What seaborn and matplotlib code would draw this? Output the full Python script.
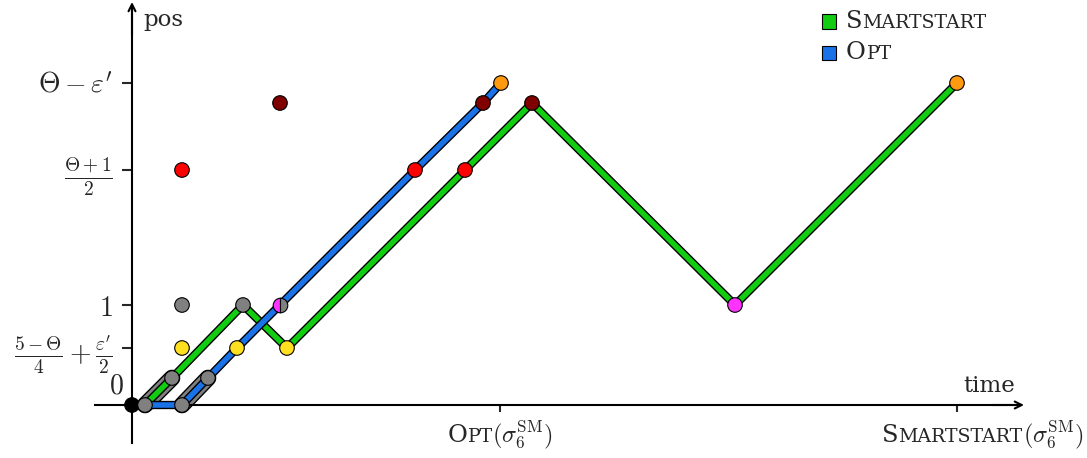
"""Trajectory of SMARTSTART vs OPT on sigma_6 (position over time)."""

import matplotlib
matplotlib.use("Agg")
import matplotlib.pyplot as plt
import matplotlib.patheffects as pe
import seaborn as sns
from matplotlib.offsetbox import (AnnotationBbox, DrawingArea, HPacker,
                                  TextArea, VPacker)
from matplotlib.patches import Rectangle

# --- data (time, position) -------------------------------------------------
green_t = [0.13, 0.40, 1.11, 1.55, 3.33, 4.00, 6.03, 8.25]
green_pos = [0.0, 0.27, 1.00, 0.57, 2.35, 3.02, 1.00, 3.22]

blue_t = [0.13, 0.50, 0.76, 1.05, 1.48, 2.83, 3.51, 3.69]
blue_pos = [0.0, 0.0, 0.27, 0.57, 1.00, 2.35, 3.02, 3.22]

band_green_t = [0.13, 0.40]
band_green_pos = [0.0, 0.27]
band_blue_t = [0.50, 0.76]
band_blue_pos = [0.0, 0.27]

point_t = [0.0, 0.13, 0.40, 0.50, 0.76, 1.11, 0.50,
           0.50, 1.05, 1.55,
           0.50, 2.83, 3.33,
           1.48, 3.51, 4.00,
           6.03,
           3.69, 8.25]
point_pos = [0.0, 0.0, 0.27, 0.0, 0.27, 1.00, 1.00,
             0.57, 0.57, 0.57,
             2.35, 2.35, 2.35,
             3.02, 3.02, 3.02,
             1.00,
             3.22, 3.22]
point_kind = ["black", "gray", "gray", "gray", "gray", "gray", "gray",
              "yellow", "yellow", "yellow",
              "red", "red", "red",
              "darkred", "darkred", "darkred",
              "magenta",
              "orange", "orange"]

half_t = [1.48]
half_pos = [1.00]

y_ticks = [0.57, 1.00, 2.35, 3.22]
y_labels = [r"$\frac{5-\Theta}{4}+\frac{\varepsilon'}{2}$", r"$1$",
            r"$\frac{\Theta+1}{2}$", r"$\Theta-\varepsilon'$"]
x_ticks = [3.68, 8.25]

# --- style -----------------------------------------------------------------
GREEN = "#11cc11"
BLUE = "#1a72e8"
palette = {"black": "#000000", "gray": "#808080", "yellow": "#ffe020",
           "red": "#ff0000", "darkred": "#800000", "magenta": "#ff33ff",
           "orange": "#ff9a10"}

sns.set_style("white")
plt.rcParams["font.family"] = ["DejaVu Serif"]
plt.rcParams["mathtext.fontset"] = "cm"
SERIF = "DejaVu Serif"
FS = 17.5


def sc_text(word, size=FS, tail=None):
    """Fake small caps: first letter full size, rest as smaller capitals."""
    parts = [TextArea(word[0], textprops=dict(size=size, family=SERIF)),
             TextArea(word[1:].upper(),
                      textprops=dict(size=size * 0.78, family=SERIF))]
    if tail:
        parts.append(TextArea(tail, textprops=dict(size=size)))
    return HPacker(children=parts, align="baseline", pad=0, sep=0)


fig = plt.figure(figsize=(10.87, 4.58), dpi=100)
ax = fig.add_axes([0, 0, 1, 1])
ax.set_xlim(-1.32, 9.55)
ax.set_ylim(-0.53, 4.05)

outline = [pe.Stroke(linewidth=6, foreground="black"), pe.Normal()]
band = [pe.Stroke(linewidth=12, foreground="black"), pe.Normal()]

sns.lineplot(x=band_green_t, y=band_green_pos, sort=False, estimator=None,
             color="#808080", lw=10, path_effects=band, zorder=2, ax=ax)
sns.lineplot(x=band_blue_t, y=band_blue_pos, sort=False, estimator=None,
             color="#808080", lw=10, path_effects=band, zorder=2, ax=ax)
sns.lineplot(x=green_t, y=green_pos, sort=False, estimator=None,
             color=GREEN, lw=4, path_effects=outline, zorder=3, ax=ax)
sns.lineplot(x=blue_t, y=blue_pos, sort=False, estimator=None,
             color=BLUE, lw=4, path_effects=outline, zorder=4, ax=ax)

sns.scatterplot(x=point_t, y=point_pos, hue=point_kind, palette=palette,
                s=110, edgecolor="black", linewidth=0.8, zorder=6,
                legend=False, ax=ax)
ax.plot(half_t, half_pos, "o", ms=10.5, fillstyle="left",
        color=palette["magenta"], markerfacecoloralt=palette["gray"],
        mec="black", mew=0.8, zorder=7)

# axes through the origin with arrow tips
for side in ("top", "right"):
    ax.spines[side].set_visible(False)
ax.spines["left"].set_position(("data", 0))
ax.spines["bottom"].set_position(("data", 0))
ax.spines["left"].set_bounds(-0.38, 3.95)
ax.spines["bottom"].set_bounds(-0.37, 8.85)
for s in ("left", "bottom"):
    ax.spines[s].set_linewidth(1.5)
    ax.spines[s].set_color("black")
arrow = dict(arrowstyle="->,head_length=0.5,head_width=0.25", lw=1.5,
             color="black", shrinkA=0, shrinkB=0)
ax.annotate("", xy=(8.92, 0), xytext=(8.6, 0), arrowprops=arrow)
ax.annotate("", xy=(0, 4.03), xytext=(0, 3.7), arrowprops=arrow)

ax.set_yticks(y_ticks)
ax.set_yticklabels(y_labels, fontsize=20)
ax.set_xticks(x_ticks)
ax.set_xticklabels(["", ""])
ax.tick_params(axis="y", direction="out", length=7, width=1.5, pad=7,
               left=True)
ax.tick_params(axis="x", direction="out", length=5, width=1.5,
               bottom=True)

ax.text(-0.16, 0.19, "$0$", fontsize=20, ha="center", va="center")
ax.text(0.11, 3.85, "pos", fontsize=16.5, ha="left", va="center")
ax.text(8.57, 0.19, "time", fontsize=16.5, ha="center", va="center")

# x tick labels in small caps
tail = r"$(\sigma_6^{\mathrm{SM}})$"
ab = AnnotationBbox(sc_text("Opt", tail=tail), (x_ticks[0], 0),
                    xybox=(0, -10), boxcoords="offset points",
                    box_alignment=(0.5, 1), frameon=False, pad=0)
ax.add_artist(ab)
ab = AnnotationBbox(sc_text("Smartstart", tail=tail), (7.50, 0),
                    xybox=(0, -10), boxcoords="offset points",
                    box_alignment=(0, 1), frameon=False, pad=0)
ax.add_artist(ab)

# legend
rows = []
for name, col in (("Smartstart", GREEN), ("Opt", BLUE)):
    box = DrawingArea(10.5, 10.5, 0, 0)
    box.add_artist(Rectangle((0, 0), 10.5, 10.5, facecolor=col,
                             edgecolor="black", lw=0.8))
    rows.append(HPacker(children=[box, sc_text(name)], align="center",
                        pad=0, sep=7))
leg = VPacker(children=rows, align="left", pad=0, sep=6)
ax.add_artist(AnnotationBbox(leg, (0.756, 0.978),
                             xycoords="figure fraction",
                             box_alignment=(0, 1), frameon=False, pad=0))

plt.savefig("out.png", dpi=100)
